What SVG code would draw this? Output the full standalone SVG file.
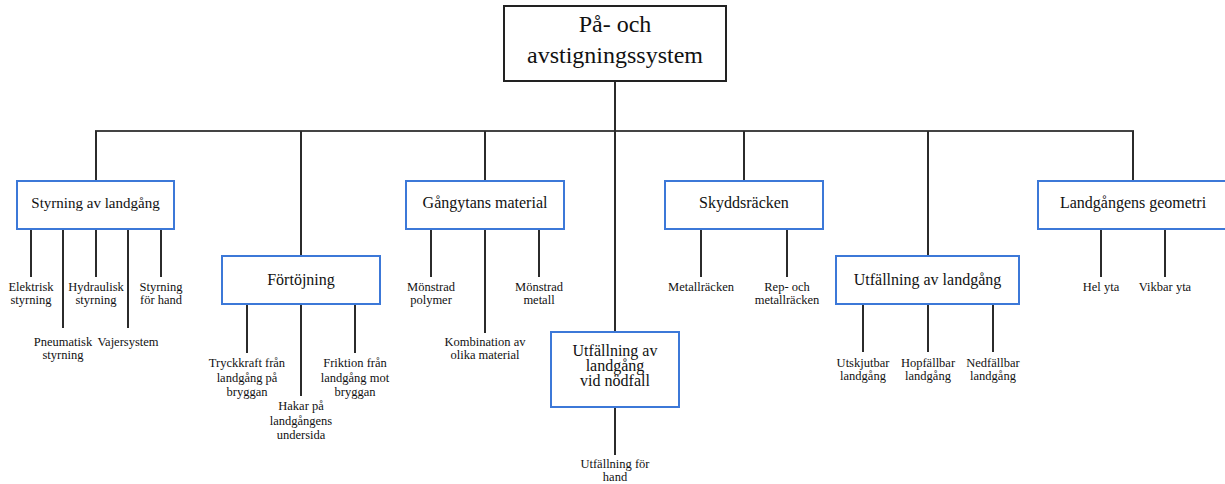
<svg xmlns="http://www.w3.org/2000/svg" width="1225" height="484" viewBox="0 0 1225 484">
<style>
.bg{fill:#ffffff}
.root{fill:#ffffff;stroke:#222222;stroke-width:2}
.box{fill:#ffffff;stroke:#3c78d8;stroke-width:2}
.ln{stroke:#2b2b2b;stroke-width:2;fill:none}
.bus{stroke:#444444;stroke-width:2;fill:none}
text{font-family:"Liberation Serif","Times New Roman",serif;fill:#111111;text-anchor:middle}
.t0{font-size:24px}
.t1{font-size:16px}
.t2{font-size:12.5px}
</style>
<rect class="bg" x="0" y="0" width="1225" height="484"/>
<g id="connectors">
<path class="bus" d="M95,131 H1134"/>
<path class="ln" d="M615,81 V332"/>
<path class="ln" d="M96,131 V181 M301,131 V256 M485,131 V181 M744,131 V181 M928,131 V256 M1133,131 V181"/>
<path class="ln" d="M31,229 V277 M63,229 V328 M96,229 V277 M128,229 V328 M161,229 V277"/>
<path class="ln" d="M247,304 V353 M301,304 V396 M355,304 V353"/>
<path class="ln" d="M431,229 V277 M485,229 V333 M539,229 V277"/>
<path class="ln" d="M615,407 V455"/>
<path class="ln" d="M701,229 V277 M787,229 V277"/>
<path class="ln" d="M863,304 V352 M928,304 V352 M993,304 V352"/>
<path class="ln" d="M1101,229 V277 M1165,229 V277"/>
</g>
<g id="root">
<rect class="root" x="504" y="6" width="222" height="75"/>
<text class="t0" x="615" y="32">På- och</text>
<text class="t0" x="615" y="63">avstigningssystem</text>
</g>
<g id="styrning">
<rect class="box" x="17" y="181" width="157" height="48"/>
<text class="t1" x="95.5" y="208" style="font-size:15px">Styrning av landgång</text>
</g>
<g id="styrning-children">
<text class="t2" x="31" y="291">Elektrisk</text>
<text class="t2" x="31" y="304">styrning</text>
<text class="t2" x="63" y="345.5">Pneumatisk</text>
<text class="t2" x="63" y="358.5">styrning</text>
<text class="t2" x="96" y="291">Hydraulisk</text>
<text class="t2" x="96" y="304">styrning</text>
<text class="t2" x="128" y="345.5">Vajersystem</text>
<text class="t2" x="161" y="291">Styrning</text>
<text class="t2" x="161" y="304">för hand</text>
</g>
<g id="fortojning">
<rect class="box" x="222" y="256" width="158" height="48"/>
<text class="t1" x="301" y="285">Förtöjning</text>
</g>
<g id="fortojning-children">
<text class="t2" x="247" y="367">Tryckkraft från</text>
<text class="t2" x="247" y="381.5">landgång på</text>
<text class="t2" x="247" y="396">bryggan</text>
<text class="t2" x="301" y="410">Hakar på</text>
<text class="t2" x="301" y="424.5">landgångens</text>
<text class="t2" x="301" y="439">undersida</text>
<text class="t2" x="355" y="367">Friktion från</text>
<text class="t2" x="355" y="381.5">landgång mot</text>
<text class="t2" x="355" y="396">bryggan</text>
</g>
<g id="gangytans">
<rect class="box" x="406" y="181" width="158" height="48"/>
<text class="t1" x="485" y="208">Gångytans material</text>
</g>
<g id="gangytans-children">
<text class="t2" x="431" y="291">Mönstrad</text>
<text class="t2" x="431" y="304">polymer</text>
<text class="t2" x="485" y="345.5">Kombination av</text>
<text class="t2" x="485" y="358.5">olika material</text>
<text class="t2" x="539" y="291">Mönstrad</text>
<text class="t2" x="539" y="304">metall</text>
</g>
<g id="nodfall">
<rect class="box" x="551" y="332" width="128" height="75"/>
<text class="t1" x="615" y="356">Utfällning av</text>
<text class="t1" x="615" y="371">landgång</text>
<text class="t1" x="615" y="386">vid nödfall</text>
</g>
<g id="nodfall-children">
<text class="t2" x="615" y="468">Utfällning för</text>
<text class="t2" x="615" y="481">hand</text>
</g>
<g id="skyddsracken">
<rect class="box" x="665" y="181" width="158" height="48"/>
<text class="t1" x="744" y="208">Skyddsräcken</text>
</g>
<g id="skyddsracken-children">
<text class="t2" x="701" y="291">Metallräcken</text>
<text class="t2" x="787" y="291">Rep- och</text>
<text class="t2" x="787" y="304">metallräcken</text>
</g>
<g id="utfallning">
<rect class="box" x="836" y="256" width="183" height="48"/>
<text class="t1" x="927.5" y="285">Utfällning av landgång</text>
</g>
<g id="utfallning-children">
<text class="t2" x="863" y="366.5">Utskjutbar</text>
<text class="t2" x="863" y="379.5">landgång</text>
<text class="t2" x="928" y="366.5">Hopfällbar</text>
<text class="t2" x="928" y="379.5">landgång</text>
<text class="t2" x="993" y="366.5">Nedfällbar</text>
<text class="t2" x="993" y="379.5">landgång</text>
</g>
<g id="geometri">
<rect class="box" x="1038" y="181" width="190" height="48"/>
<text class="t1" x="1133" y="208">Landgångens geometri</text>
</g>
<g id="geometri-children">
<text class="t2" x="1101" y="291">Hel yta</text>
<text class="t2" x="1165" y="291">Vikbar yta</text>
</g>
</svg>
